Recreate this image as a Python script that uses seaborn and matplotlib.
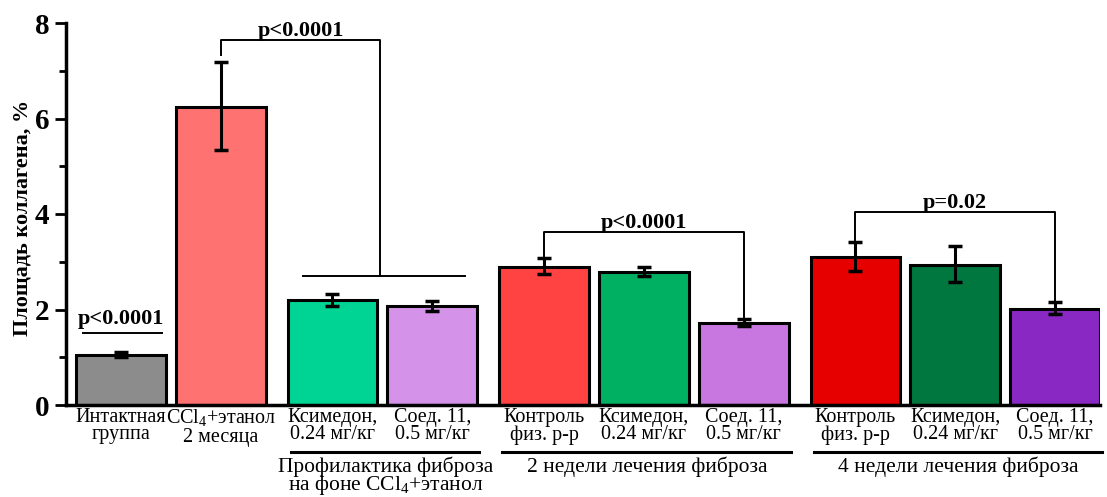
import matplotlib
matplotlib.use("Agg")
import pandas as pd
import matplotlib.pyplot as plt
import seaborn as sns

# === DATA ===
bar_ids = ["b0", "b1", "b2", "b3", "b4", "b5", "b6", "b7", "b8", "b9"]
group_idx = [0, 0, 1, 1, 2, 2, 2, 3, 3, 3]
tick_labels = [
    "Интактная\nгруппа",
    "CCl$_\\mathregular{4}$+этанол\n2 месяца",
    "Ксимедон,\n0.24 мг/кг",
    "Соед. 11,\n0.5 мг/кг",
    "Контроль\nфиз. р-р",
    "Ксимедон,\n0.24 мг/кг",
    "Соед. 11,\n0.5 мг/кг",
    "Контроль\nфиз. р-р",
    "Ксимедон,\n0.24 мг/кг",
    "Соед. 11,\n0.5 мг/кг",
]
values = [1.05, 6.25, 2.20, 2.07, 2.90, 2.78, 1.72, 3.10, 2.93, 2.02]
err_low = [1.00, 5.33, 2.08, 1.96, 2.75, 2.70, 1.65, 2.80, 2.58, 1.90]
err_high = [1.10, 7.18, 2.33, 2.18, 3.08, 2.88, 1.80, 3.42, 3.32, 2.15]
colors = ["#8c8c8c", "#ff7272", "#00d494", "#d493e8", "#ff4242",
          "#00b062", "#c877e0", "#e60000", "#00773f", "#8a28c4"]
group_names = [
    "Профилактика фиброза\nна фоне CCl$_\\mathregular{4}$+этанол",
    "2 недели лечения фиброза",
    "4 недели лечения фиброза",
]

plt.rcParams["font.family"] = "Liberation Serif"
plt.rcParams["mathtext.fontset"] = "custom"
plt.rcParams["mathtext.rm"] = "Liberation Serif"

GAP = 0.12
pos = [i + GAP * g for i, g in enumerate(group_idx)]
df = pd.DataFrame({"pos": pos, "val": values, "bar": bar_ids})

fig = plt.figure(figsize=(11.07, 4.97), dpi=100)
ax = fig.add_axes([66 / 1107, 92 / 497, (1100 - 66) / 1107, (405 - 23) / 497])

sns.barplot(data=df, x="pos", y="val", hue="bar", palette=colors, native_scale=True,
            dodge=False, width=0.9, saturation=1, edgecolor="black", linewidth=2.2,
            legend=False, ax=ax)

yerr = [[v - lo for v, lo in zip(values, err_low)], [hi - v for v, hi in zip(values, err_high)]]
ax.errorbar(pos, values, yerr=yerr, fmt="none", ecolor="black", elinewidth=2.2,
            capsize=5, capthick=2.5, zorder=5)

ax.set_xlim(pos[0] - 0.55, pos[-1] + 0.45)
ax.set_ylim(0, 8)
ax.set_yticks([0, 2, 4, 6, 8])
ax.set_yticks([1, 3, 5, 7], minor=True)
ax.set_xticks(pos)
ax.set_xticklabels(tick_labels, fontsize=14.5, linespacing=0.9)
ax.tick_params(axis="x", length=0, pad=2)
ax.tick_params(axis="y", which="major", length=8, width=2, labelsize=21, pad=4)
ax.tick_params(axis="y", which="minor", length=5, width=2)
for t in ax.get_yticklabels():
    t.set_fontweight("bold")
ax.set_xlabel("")
ax.set_ylabel("Площадь коллагена, %", fontsize=16, fontweight="bold")
ax.yaxis.set_label_coords(-0.032, 0.49)
for s in ["top", "right"]:
    ax.spines[s].set_visible(False)
for s in ["left", "bottom"]:
    ax.spines[s].set_linewidth(2.5)

# group underlines and captions
trans = ax.get_xaxis_transform()
spans = [(pos[2], pos[3]), (pos[4], pos[6]), (pos[7], pos[9])]
for (a, b), name in zip(spans, group_names):
    ax.plot([a - 0.42, b + 0.47], [-0.123, -0.123], color="black", lw=2.2,
            transform=trans, clip_on=False)
    ax.text((a + b) / 2 + 0.03, -0.134, name, transform=trans, ha="center", va="top",
            fontsize=15.5, linespacing=0.8)

# significance brackets
lw = 1.4
ax.plot([pos[0] - 0.38, pos[0] + 0.41], [1.5, 1.5], color="black", lw=lw)
ax.text(pos[0], 1.6, "p<0.0001", ha="center", va="bottom", fontsize=16, fontweight="bold")

xr = pos[1] + 1.6
ax.plot([pos[1], pos[1], xr, xr], [7.33, 7.64, 7.64, 2.7], color="black", lw=lw)
ax.plot([pos[2] - 0.3, pos[3] + 0.33], [2.7, 2.7], color="black", lw=lw)
ax.text((pos[1] + xr) / 2, 7.63, "p<0.0001", ha="center", va="bottom", fontsize=16, fontweight="bold")

ax.plot([pos[4], pos[4], pos[6], pos[6]], [3.12, 3.62, 3.62, 1.84], color="black", lw=lw)
ax.text(pos[5], 3.61, "p<0.0001", ha="center", va="bottom", fontsize=16, fontweight="bold")

ax.plot([pos[7], pos[7], pos[9], pos[9]], [3.45, 4.04, 4.04, 2.18], color="black", lw=lw)
ax.text(pos[8], 4.03, "p=0.02", ha="center", va="bottom", fontsize=16, fontweight="bold")

fig.savefig("out.png", dpi=100)
